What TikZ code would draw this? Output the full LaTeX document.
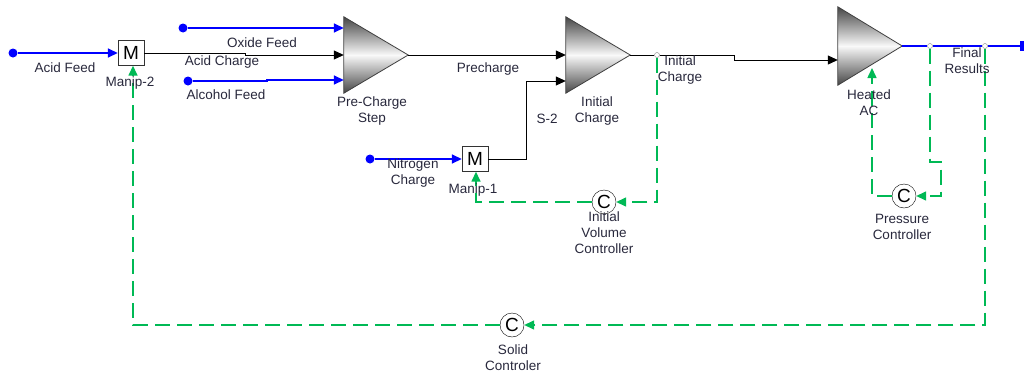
\documentclass[tikz,border=0pt]{standalone}
\usepackage{fontspec}
\setmainfont{Liberation Sans}
\usetikzlibrary{arrows.meta,calc}
\definecolor{ctrlgreen}{RGB}{0,185,85}
\definecolor{txt}{RGB}{40,40,60}
\begin{document}
\begin{tikzpicture}[x=1pt,y=-1pt,font=\fontsize{13.5}{16}\selectfont,
  lbl/.style={text=txt,align=center,inner sep=0pt},
  mbox/.style={draw=black!80,fill=white,minimum width=26pt,minimum height=25pt,inner sep=0pt,font=\fontsize{19}{19}\selectfont},
  ctrl/.style={circle,draw=black,fill=white,minimum size=24pt,inner sep=0pt,font=\fontsize{19}{19}\selectfont},
  unitarea/.style={minimum width=64pt,minimum height=76pt,inner sep=0pt},
  unitshade/.style={top color=gray!55!black,bottom color=gray!55!black,middle color=gray!5,draw=black!75,line width=0.8pt},
  feed/.style={draw=blue,line width=1.6pt,-{Triangle[length=10pt,width=9pt]}},
  srcdot/.style={circle,fill=blue,minimum size=9pt,inner sep=0pt},
  proc/.style={draw=black,line width=1pt,-{Triangle[length=10pt,width=9pt]}},
  plain/.style={draw=black,line width=1pt},
  sig/.style={draw=ctrlgreen,line width=1.5pt,dash pattern=on 15pt off 7pt,-{Triangle[length=10pt,width=9pt]}},
  jn/.style={circle,draw=gray,fill=white,minimum size=5pt,inner sep=0pt}]
\useasboundingbox (0,0) rectangle (1025,372);

% unit areas
\node[unitarea] (pc) at (376,55) {};
\node[unitarea] (ic) at (598,55) {};
\node[unitarea,minimum height=78pt] (hac) at (870,46) {};
\shade[unitshade] (pc.north west) -- (pc.east) -- (pc.south west) -- cycle;
\shade[unitshade] (ic.north west) -- (ic.east) -- (ic.south west) -- cycle;
\shade[unitshade] (hac.north west) -- (hac.east) -- (hac.south west) -- cycle;

% mixers and controllers
\node[mbox] (m2) at (131,53) {M};
\node[mbox] (m1) at (475,159) {M};
\node[ctrl] (ivc) at (604,202) {C};
\node[ctrl] (prc) at (904,196) {C};
\node[ctrl] (slc) at (512,325) {C};

% sources
\node[srcdot] (sAcid) at (13,53) {};
\node[srcdot] (sOx) at (183,28) {};
\node[srcdot] (sAlc) at (188,81) {};
\node[srcdot] (sN) at (370,159) {};

% junctions and end
\node[jn] (j1) at (657,55) {};
\node[jn] (j2) at (930,46) {};
\node[jn] (j3) at (985,46) {};
\coordinate (fend) at (1024,46);

% feeds
\draw[feed] (sAcid) -- (m2.west);
\draw[feed] (sOx) -- (pc.west |- sOx);
\draw[feed] (sAlc) -- (267,81) -- (267,80) -- (pc.west |- 0,80);
\draw[feed] (sN) -- (m1.west);

% process streams
\draw[proc] (m2.east) -- (245,53) -- (245,55) -- (pc.west);
\draw[proc] (pc.east) -- (ic.west);
\draw[proc] (m1.east) -- (526,159) -- (526,81) -- (ic.west |- 0,81);
\draw[plain] (ic.east) -- (j1.west);
\draw[proc] (j1.east) -- (734,55) -- (734,60) -- (hac.west |- 0,60);
\draw[draw=blue,line width=1.6pt] (hac.east) -- (j2.west);
\draw[draw=blue,line width=1.6pt] (j2.east) -- (j3.west);
\draw[draw=blue,line width=1.6pt,-{Rectangle[length=4pt,width=10pt]}] (j3.east) -- (fend);

% signals
\draw[sig] (j1.south) -- (657,202) -- (ivc.east);
\draw[sig] (ivc.west) -- (476,202) -- (m1.south -| 476,0);
\draw[sig] (j2.south) -- (930,162) -- (941,162) -- (941,196) -- (prc.east);
\draw[sig] (prc.west) -- (872,196) -- (872,68);
\draw[sig] (j3.south) -- (985,325) -- (slc.east);
\draw[sig] (slc.west) -- (133,325) -- (m2.south -| 133,0);

% labels
\node[lbl] (lAcid) at (65,68) {Acid Feed};
\node[lbl] (lM2) at (130,83) {Manip-2};
\node[lbl] (lOx) at (262,43) {Oxide Feed};
\node[lbl] (lAcC) at (222,62) {Acid Charge};
\node[lbl] (lAlc) at (226,95) {Alcohol Feed};
\node[lbl] (lPC) at (372,111) {Pre-Charge\\Step};
\node[lbl] (lPre) at (488,69) {Precharge};
\node[lbl] (lIC) at (597,111) {Initial\\Charge};
\node[lbl] (lS2) at (547,119) {S-2};
\node[lbl] (lIC2) at (680,70) {Initial\\Charge};
\node[lbl] (lHAC) at (869,103) {Heated\\AC};
\node[lbl] (lFR) at (967,61) {Final\\Results};
\node[lbl] (lN) at (413,173) {Nitrogen\\Charge};
\node[lbl] (lM1) at (473,190) {Manip-1};
\node[lbl] (lIVC) at (604,233) {Initial\\Volume\\Controller};
\node[lbl] (lPRC) at (902,227) {Pressure\\Controller};
\node[lbl] (lSLC) at (513,358) {Solid\\Controler};
\end{tikzpicture}
\end{document}
